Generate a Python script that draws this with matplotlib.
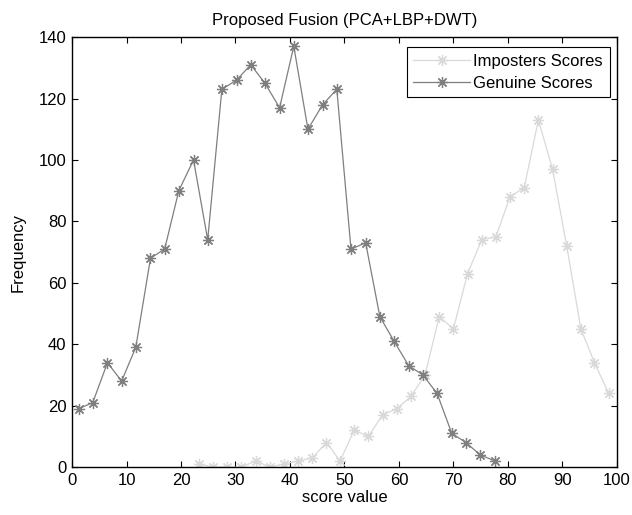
import matplotlib
matplotlib.use('Agg')
import matplotlib.pyplot as plt

# imposter scores histogram
imp_x = [23.3, 25.9, 28.5, 31.1, 33.7, 36.3, 38.9, 41.5, 44.1, 46.7,
         49.2, 51.8, 54.4, 57.0, 59.6, 62.2, 64.8, 67.4, 70.0, 72.6,
         75.2, 77.8, 80.4, 83.0, 85.6, 88.2, 90.8, 93.4, 95.9, 98.5]
imp_y = [1, 0, 0, 0, 2, 0, 1, 2, 3, 8,
         2, 12, 10, 17, 19, 23, 30, 49, 45, 63,
         74, 75, 88, 91, 113, 97, 72, 45, 34, 24]

# genuine scores histogram
gen_x = [1.2, 3.8, 6.5, 9.1, 11.7, 14.4, 17.0, 19.6, 22.3, 24.9,
         27.5, 30.2, 32.8, 35.4, 38.1, 40.7, 43.3, 46.0, 48.6, 51.2,
         53.9, 56.5, 59.1, 61.8, 64.4, 67.0, 69.7, 72.3, 74.9, 77.6]
gen_y = [19, 21, 34, 28, 39, 68, 71, 90, 100, 74,
         123, 126, 131, 125, 117, 137, 110, 118, 123, 71,
         73, 49, 41, 33, 30, 24, 11, 8, 4, 2]

plt.rcParams['font.family'] = ['Liberation Sans', 'DejaVu Sans']
plt.rcParams['font.size'] = 12

fig = plt.figure(figsize=(6.32, 5.15), dpi=100)
ax = fig.add_axes([0.114, 0.093, 0.862, 0.835])

star = (8, 2, 0)  # matlab style asterisk
ax.plot(imp_x, imp_y, color='#d9d9d9', marker=star, markersize=8,
        markeredgewidth=0.9, linewidth=0.9, label='Imposters Scores')
ax.plot(gen_x, gen_y, color='#7f7f7f', marker=star, markersize=8,
        markeredgewidth=0.9, linewidth=0.9, label='Genuine Scores')

ax.set_xlim(0, 100)
ax.set_ylim(0, 140)
ax.set_xticks(range(0, 101, 10))
ax.set_yticks(range(0, 141, 20))
ax.tick_params(direction='in', top=True, right=True, length=4, pad=4)
for s in ax.spines.values():
    s.set_linewidth(1)

ax.set_title('Proposed Fusion (PCA+LBP+DWT)', fontsize=12, pad=9)
ax.set_xlabel('score value', labelpad=2)
ax.set_ylabel('Frequency', labelpad=9)

leg = ax.legend(loc='upper right', fancybox=False, framealpha=1,
                edgecolor='black', borderpad=0.4, handlelength=3.4,
                handletextpad=0.2, labelspacing=0.42,
                bbox_to_anchor=(0.987, 0.977), borderaxespad=0)
leg.get_frame().set_linewidth(0.8)

fig.savefig('out.png', dpi=100)
